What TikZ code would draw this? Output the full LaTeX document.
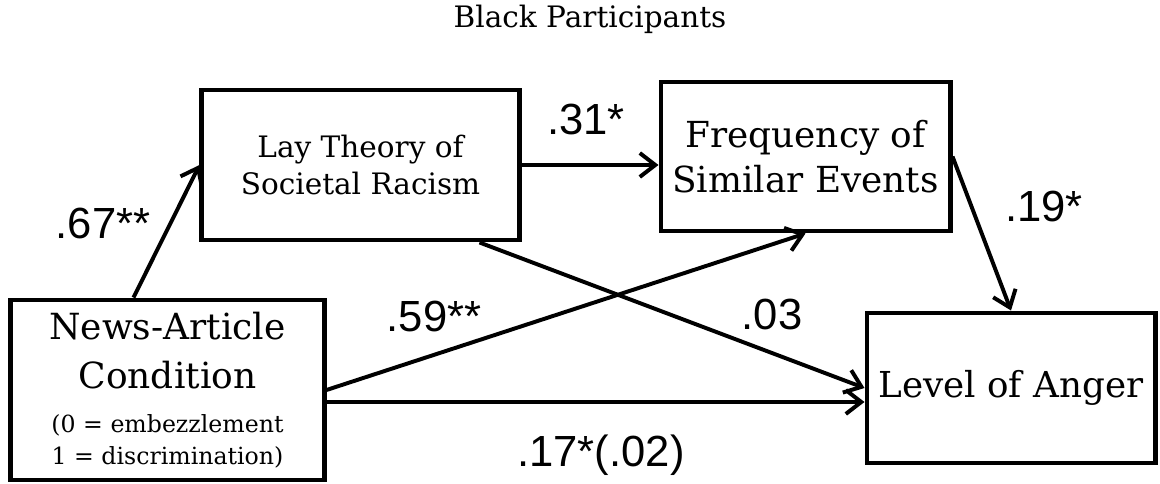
\documentclass[tikz,border=0pt]{standalone}
\usepackage{fontspec}
\setmainfont{DejaVu Serif}
\newfontfamily\coeffont{Liberation Sans}
\usetikzlibrary{arrows.meta}
\begin{document}
\begin{tikzpicture}[x=0.025cm, y=-0.025cm,
  varbox/.style={draw, line width=3.5pt, align=center, inner sep=0pt},
  effect/.style={line width=2.8pt, -{Straight Barb[length=11pt, width=17pt]}},
  coef/.style={anchor=base, font=\coeffont\fontsize{31}{36}\selectfont}]
\useasboundingbox (0,0) rectangle (1160,484);
\node[anchor=base, font=\fontsize{21}{25}\selectfont] (title) at (590,28) {Black Participants};
\node[varbox, minimum width=7.825cm, minimum height=4.5cm, font=\fontsize{25.6}{35}\selectfont] (news) at (167.5,390) {News-Article\\Condition\\[-4pt]{\fontsize{16.8}{21}\selectfont (0 = embezzlement}\\[-12pt]{\fontsize{16.8}{21}\selectfont 1 = discrimination)}};
\node[varbox, minimum width=7.925cm, minimum height=3.75cm, font=\fontsize{21}{27}\selectfont] (lay) at (360.5,165) {Lay Theory of\\Societal Racism};
\node[varbox, minimum width=7.225cm, minimum height=3.725cm, font=\fontsize{25.5}{32}\selectfont] (freq) at (805.5,156.5) {Frequency of\\Similar Events};
\node[varbox, minimum width=7.2cm, minimum height=3.75cm, font=\fontsize{25.4}{32}\selectfont] (anger) at (1011,388) {Level of Anger};
% paths
\draw[effect] ([xshift=-0.85cm]news.north) -- (lay.west);
\draw[effect] (lay.east) -- (lay.east -| freq.west);
\draw[effect] (freq.east) -- (anger.north);
\draw[effect] (news.east) -- (freq.south);
\draw[effect] ([xshift=-1.05cm]lay.south east) -- (anger.west);
\draw[effect] ([yshift=-0.3cm]news.east) -- ([yshift=-0.3cm]news.east -| anger.west);
% coefficients
\node[coef] (c67) at (103,239) {.67**};
\node[coef] (c31) at (586,135) {.31*};
\node[coef] (c19) at (1044,222) {.19*};
\node[coef] (c59) at (434,332) {.59**};
\node[coef] (c03) at (772,330) {.03};
\node[coef] (c17) at (601,467) {.17*(.02)};
\end{tikzpicture}
\end{document}
